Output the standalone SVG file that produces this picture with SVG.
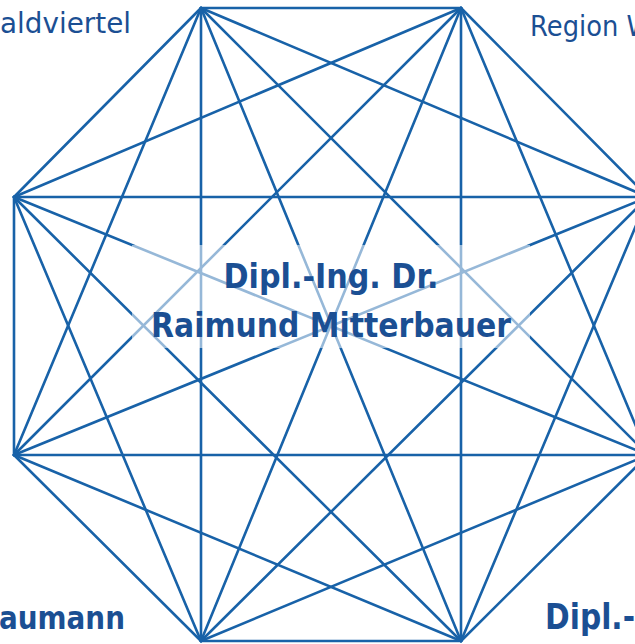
<svg xmlns="http://www.w3.org/2000/svg" width="635" height="644" viewBox="0 0 635 644">
<style>
.e{stroke:#1862a8;stroke-width:2.6;fill:none;stroke-linecap:round}
.t{font-family:"DejaVu Sans","Liberation Sans",sans-serif;fill:#1b4f93}
.b{font-weight:bold}
</style>
<rect width="635" height="644" fill="#ffffff"/>
<g id="connectors">
<line class="e" x1="201" y1="8" x2="461" y2="8"/>
<line class="e" x1="201" y1="8" x2="648" y2="197"/>
<line class="e" x1="201" y1="8" x2="648" y2="455"/>
<line class="e" x1="201" y1="8" x2="461" y2="641"/>
<line class="e" x1="201" y1="8" x2="201" y2="641"/>
<line class="e" x1="201" y1="8" x2="14" y2="455"/>
<line class="e" x1="201" y1="8" x2="14" y2="197"/>
<line class="e" x1="461" y1="8" x2="648" y2="197"/>
<line class="e" x1="461" y1="8" x2="648" y2="455"/>
<line class="e" x1="461" y1="8" x2="461" y2="641"/>
<line class="e" x1="461" y1="8" x2="201" y2="641"/>
<line class="e" x1="461" y1="8" x2="14" y2="455"/>
<line class="e" x1="461" y1="8" x2="14" y2="197"/>
<line class="e" x1="648" y1="197" x2="648" y2="455"/>
<line class="e" x1="648" y1="197" x2="461" y2="641"/>
<line class="e" x1="648" y1="197" x2="201" y2="641"/>
<line class="e" x1="648" y1="197" x2="14" y2="455"/>
<line class="e" x1="648" y1="197" x2="14" y2="197"/>
<line class="e" x1="648" y1="455" x2="461" y2="641"/>
<line class="e" x1="648" y1="455" x2="201" y2="641"/>
<line class="e" x1="648" y1="455" x2="14" y2="455"/>
<line class="e" x1="648" y1="455" x2="14" y2="197"/>
<line class="e" x1="461" y1="641" x2="201" y2="641"/>
<line class="e" x1="461" y1="641" x2="14" y2="455"/>
<line class="e" x1="461" y1="641" x2="14" y2="197"/>
<line class="e" x1="201" y1="641" x2="14" y2="455"/>
<line class="e" x1="201" y1="641" x2="14" y2="197"/>
<line class="e" x1="14" y1="455" x2="14" y2="197"/>
</g>
<g id="center">
<rect x="132" y="245" width="398" height="103" fill="#ffffff" fill-opacity="0.55"/>
<text class="t b" x="331" y="288" font-size="33" text-anchor="middle" textLength="215" lengthAdjust="spacingAndGlyphs">Dipl.-Ing. Dr.</text>
<text class="t b" x="331" y="337" font-size="33" text-anchor="middle" textLength="360" lengthAdjust="spacingAndGlyphs">Raimund Mitterbauer</text>
</g>
<g id="label-tl">
<text class="t" x="0" y="33" font-size="28" textLength="131" lengthAdjust="spacingAndGlyphs">aldviertel</text>
</g>
<g id="label-tr">
<text class="t" x="530" y="36" font-size="28" textLength="122" lengthAdjust="spacingAndGlyphs">Region W</text>
</g>
<g id="label-bl">
<text class="t b" x="-1" y="629" font-size="32" textLength="126" lengthAdjust="spacingAndGlyphs">aumann</text>
</g>
<g id="label-br">
<text class="t b" x="545" y="629" font-size="36" textLength="90" lengthAdjust="spacingAndGlyphs">Dipl.-</text>
</g>
</svg>
